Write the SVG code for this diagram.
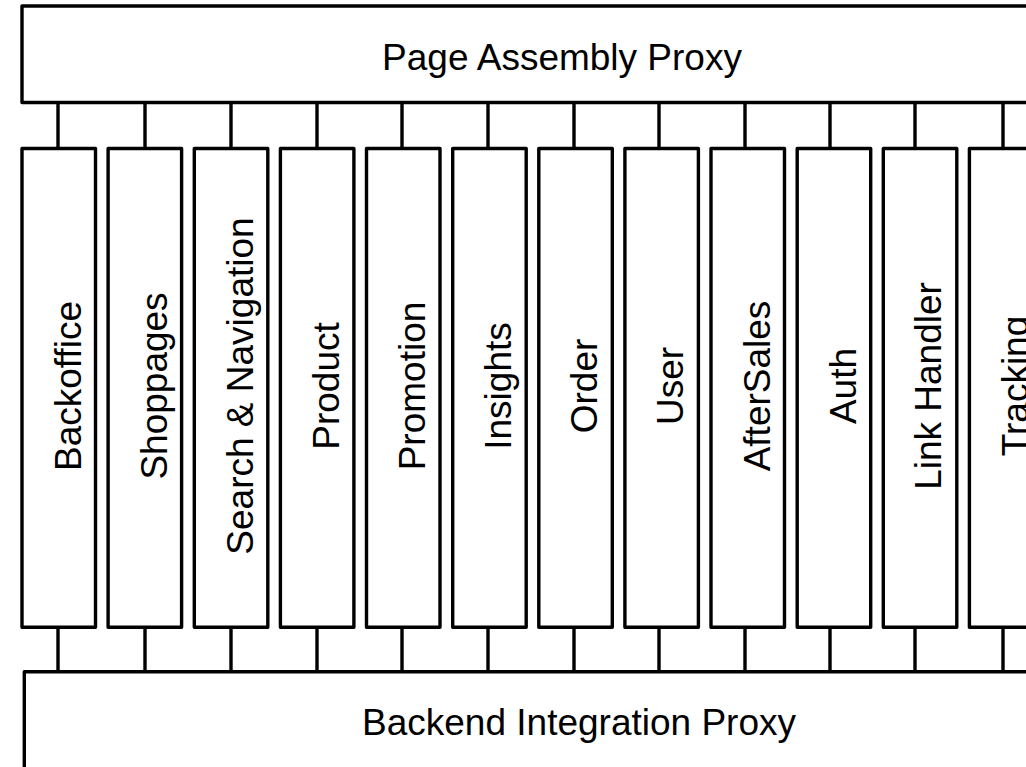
<svg xmlns="http://www.w3.org/2000/svg" width="1026" height="767" viewBox="0 0 1026 767">
  <style>
    .box { fill: #ffffff; stroke: #000000; stroke-width: 3.4; stroke-linejoin: round; }
    .link { stroke: #000000; stroke-width: 3.4; fill: none; }
    .label { font-family: "Liberation Sans", Arial, sans-serif; font-size: 37px; fill: #000000; text-anchor: middle; }
  </style>
  <rect width="1026" height="767" fill="#ffffff"/>

  <!-- connectors between the proxies and the service columns -->
  <g id="connectors">
    <path class="link" d="M58 102V148 M145 102V148 M231 102V148 M317 102V148 M402 102V148 M488 102V148 M574 102V148 M659 102V148 M745 102V148 M830 102V148 M915 102V148 M1003 102V148"/>
    <path class="link" d="M58 627V672 M145 627V672 M231 627V672 M317 627V672 M402 627V672 M488 627V672 M574 627V672 M659 627V672 M745 627V672 M830 627V672 M915 627V672 M1003 627V672"/>
  </g>

  <g id="page-assembly-proxy">
    <rect class="box" x="22" y="6" width="1100" height="96.5"/>
    <text class="label" x="562" y="69.5">Page Assembly Proxy</text>
  </g>

  <g id="backend-integration-proxy">
    <rect class="box" x="24.3" y="671.8" width="1100" height="200"/>
    <text class="label" x="579" y="735">Backend Integration Proxy</text>
  </g>

  <g id="backoffice">
    <rect class="box" x="22" y="148.5" width="73.5" height="478.8"/>
    <text class="label" transform="translate(80.5 386) rotate(-90)">Backoffice</text>
  </g>
  <g id="shoppages">
    <rect class="box" x="108.1" y="148.5" width="73.5" height="478.8"/>
    <text class="label" transform="translate(166.6 386) rotate(-90)">Shoppages</text>
  </g>
  <g id="search-navigation">
    <rect class="box" x="194.3" y="148.5" width="73.5" height="478.8"/>
    <text class="label" transform="translate(252.8 386) rotate(-90)">Search &amp; Navigation</text>
  </g>
  <g id="product">
    <rect class="box" x="280.4" y="148.5" width="73.5" height="478.8"/>
    <text class="label" transform="translate(338.9 386) rotate(-90)">Product</text>
  </g>
  <g id="promotion">
    <rect class="box" x="366.5" y="148.5" width="73.5" height="478.8"/>
    <text class="label" transform="translate(425 386) rotate(-90)">Promotion</text>
  </g>
  <g id="insights">
    <rect class="box" x="452.7" y="148.5" width="73.5" height="478.8"/>
    <text class="label" transform="translate(511.2 386) rotate(-90)">Insights</text>
  </g>
  <g id="order">
    <rect class="box" x="538.8" y="148.5" width="73.5" height="478.8"/>
    <text class="label" transform="translate(597.3 386) rotate(-90)">Order</text>
  </g>
  <g id="user">
    <rect class="box" x="624.9" y="148.5" width="73.5" height="478.8"/>
    <text class="label" transform="translate(683.4 386) rotate(-90)">User</text>
  </g>
  <g id="aftersales">
    <rect class="box" x="711" y="148.5" width="73.5" height="478.8"/>
    <text class="label" transform="translate(769.5 386) rotate(-90)">AfterSales</text>
  </g>
  <g id="auth">
    <rect class="box" x="797.2" y="148.5" width="73.5" height="478.8"/>
    <text class="label" transform="translate(855.7 386) rotate(-90)">Auth</text>
  </g>
  <g id="link-handler">
    <rect class="box" x="883.3" y="148.5" width="73.5" height="478.8"/>
    <text class="label" transform="translate(941 386) rotate(-90)">Link Handler</text>
  </g>
  <g id="tracking">
    <rect class="box" x="969.4" y="148.5" width="73.5" height="478.8"/>
    <text class="label" transform="translate(1028 386) rotate(-90)">Tracking</text>
  </g>
</svg>
